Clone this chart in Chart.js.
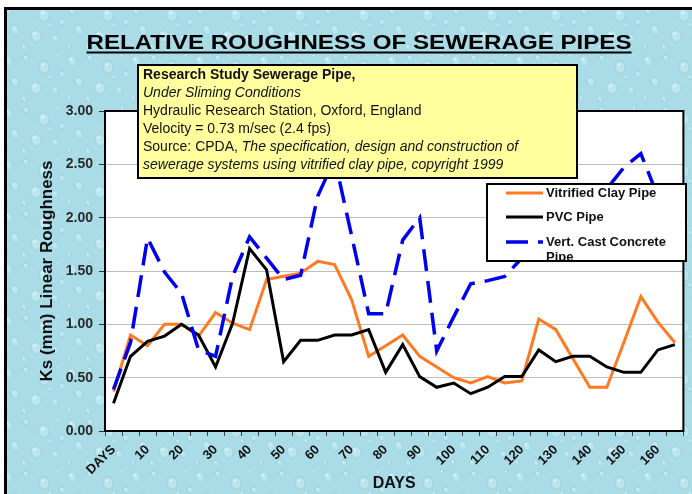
<!DOCTYPE html>
<html>
<head>
<meta charset="utf-8">
<script src="https://cdn.jsdelivr.net/npm/chart.js@4.4.0/dist/chart.umd.min.js"></script>
<style>
  html, body { margin: 0; padding: 0; background: #fff; }
  #wrap { width: 692px; height: 494px; }
</style>
</head>
<body>
<div id="wrap"><canvas id="chart" width="692" height="494"></canvas></div>
<script>
// ====== DATA (one point every 5 days) ======
const dayLabels = ["DAYS", "", "10", "", "20", "", "30", "", "40", "", "50", "", "60", "", "70", "", "80", "",
  "90", "", "100", "", "110", "", "120", "", "130", "", "140", "", "150", "", "160", ""];

const clayPipe = [0.37, 0.90, 0.80, 1.00, 1.00, 0.89, 1.11, 1.01, 0.95, 1.42, 1.45, 1.48, 1.59, 1.56, 1.23, 0.70, 0.80,
  0.90, 0.70, 0.60, 0.50, 0.45, 0.51, 0.45, 0.47, 1.05, 0.95, 0.68, 0.41, 0.41, 0.83, 1.26, 1.02, 0.83];

const pvcPipe = [0.26, 0.70, 0.84, 0.89, 1.00, 0.90, 0.60, 1.01, 1.71, 1.51, 0.65, 0.85, 0.85, 0.90, 0.90, 0.95, 0.55,
  0.81, 0.51, 0.41, 0.45, 0.35, 0.41, 0.51, 0.51, 0.76, 0.65, 0.70, 0.70, 0.60, 0.55, 0.55, 0.76, 0.81];

const concretePipe = [0.39, 0.83, 1.81, 1.49, 1.29, 0.76, 0.70, 1.45, 1.82, 1.62, 1.42, 1.46, 2.20, 2.55, 1.83, 1.10, 1.10,
  1.79, 2.00, 0.75, 1.07, 1.38, 1.41, 1.45, 1.62, 1.75, 1.85, 1.95, 2.10, 2.27, 2.47, 2.60, 2.20, 1.80];

const seriesNames = ["Vitrified Clay Pipe", "PVC Pipe", "Vert. Cast Concrete Pipe"];
const seriesColors = ["#FF7A22", "#000000", "#0000F0"];

const noteLines = [
  [{ t: "Research Study Sewerage Pipe,", s: "bold" }],
  [{ t: "Under Sliming Conditions", s: "italic" }],
  [{ t: "Hydraulic Research Station, Oxford, England", s: "" }],
  [{ t: "Velocity = 0.73 m/sec (2.4 fps)", s: "" }],
  [{ t: "Source: CPDA, ", s: "" }, { t: "The specification, design and construction of", s: "italic" }],
  [{ t: "sewerage systems using vitrified clay pipe, copyright 1999", s: "italic" }]
];

const FONT = '"Liberation Sans", Arial, sans-serif';

// ====== FUNDO COM GOTAS ======
function makeDropPattern(ctx) {
  const c = document.createElement("canvas");
  c.width = 64; c.height = 52;
  const p = c.getContext("2d");
  p.fillStyle = "#A9DCE7";
  p.fillRect(0, 0, 64, 52);
  const drops = [[8, 9, 4, 5], [26, 6, 2.5, 3], [44, 15, 5, 6], [58, 4, 2, 2.5], [15, 30, 3.5, 4.5], [36, 36, 5, 6],
    [55, 38, 3, 3.5], [5, 46, 2, 2.5], [24, 47, 2.5, 3], [50, 25, 2, 2.5], [62, 22, 2.5, 3]];
  drops.forEach(([x, y, rx, ry]) => {
    p.beginPath();
    p.ellipse(x, y, rx, ry, -0.3, 0, Math.PI * 2);
    p.fillStyle = "rgba(200,236,244,0.6)";
    p.fill();
    p.lineWidth = 0.8;
    p.strokeStyle = "rgba(120,185,202,0.45)";
    p.stroke();
    p.beginPath();
    p.ellipse(x - rx * 0.3, y - ry * 0.35, rx * 0.3, ry * 0.22, -0.3, 0, Math.PI * 2);
    p.fillStyle = "rgba(240,252,255,0.6)";
    p.fill();
  });
  return ctx.createPattern(c, "repeat");
}

const backgroundPlugin = {
  id: "background",
  beforeDraw(chart) {
    const { ctx, chartArea: a, width, height } = chart;
    ctx.save();
    ctx.fillStyle = "#fff";
    ctx.fillRect(0, 0, width, height);
    ctx.fillStyle = makeDropPattern(ctx);
    ctx.fillRect(5, 8, width - 5, height - 8);
    ctx.strokeStyle = "#000";
    ctx.lineWidth = 3;
    ctx.beginPath();
    ctx.moveTo(width, 8.5);
    ctx.lineTo(5.5, 8.5);
    ctx.lineTo(5.5, height);
    ctx.stroke();
    ctx.fillStyle = "#fff";
    ctx.fillRect(a.left, a.top, a.right - a.left, a.bottom - a.top);

    // titulo sublinhado
    ctx.font = "bold 21px " + FONT;
    const title = "RELATIVE ROUGHNESS OF SEWERAGE PIPES";
    const w = ctx.measureText(title).width;
    const sx = 545 / w;
    ctx.translate(359, 0);
    ctx.scale(sx, 1);
    ctx.fillStyle = "#000";
    ctx.textAlign = "center";
    ctx.textBaseline = "alphabetic";
    ctx.fillText(title, 0, 49);
    ctx.fillRect(-w / 2, 51.5, w, 2);
    ctx.restore();
  },
  beforeDatasetsDraw(chart) {
    const { ctx, chartArea: a } = chart;
    ctx.save();
    ctx.strokeStyle = "#000";
    ctx.lineWidth = 2;
    ctx.strokeRect(a.left, a.top, a.right - a.left, a.bottom - a.top);
    ctx.restore();
  }
};

// ====== CAIXA DE NOTA + LEGENDA ======
const overlayPlugin = {
  id: "overlay",
  afterDraw(chart) {
    const { ctx } = chart;
    ctx.save();

    // nota amarela
    ctx.fillStyle = "#FFFF9E";
    ctx.fillRect(138, 65, 439, 113);
    ctx.strokeStyle = "#000";
    ctx.lineWidth = 2;
    ctx.strokeRect(138, 65, 439, 113);
    ctx.textBaseline = "middle";
    ctx.textAlign = "left";
    ctx.fillStyle = "#111";
    noteLines.forEach((parts, i) => {
      let x = 143;
      const y = 75 + i * 18;
      parts.forEach(part => {
        ctx.font = (part.s ? part.s + " " : "") + "14px " + FONT;
        ctx.fillText(part.t, x, y);
        x += ctx.measureText(part.t).width;
      });
    });

    // legenda
    const lx = 487, ly = 184, lw = 199, lh = 77;
    ctx.fillStyle = "#fff";
    ctx.fillRect(lx, ly, lw, lh);
    ctx.save();
    ctx.beginPath();
    ctx.rect(lx, ly, lw, lh);
    ctx.clip();
    const rows = [193, 217, 242];
    chart.data.datasets.forEach((ds, i) => {
      ctx.strokeStyle = ds.borderColor;
      ctx.lineWidth = ds.borderWidth;
      ctx.setLineDash(ds.borderDash || []);
      ctx.beginPath();
      ctx.moveTo(506, rows[i]);
      ctx.lineTo(543, rows[i]);
      ctx.stroke();
    });
    ctx.setLineDash([]);
    ctx.fillStyle = "#111";
    ctx.font = "bold 13px " + FONT;
    ctx.fillText("Vitrified Clay Pipe", 546, rows[0]);
    ctx.fillText("PVC Pipe", 546, rows[1]);
    ctx.fillText("Vert. Cast Concrete", 546, rows[2]);
    ctx.fillText("Pipe", 546, rows[2] + 15);
    ctx.restore();
    ctx.strokeStyle = "#000";
    ctx.lineWidth = 2;
    ctx.strokeRect(lx, ly, lw, lh);

    ctx.restore();
  }
};

// ====== GRAFICO ======
const ctx = document.getElementById("chart").getContext("2d");
new Chart(ctx, {
  type: "line",
  data: {
    labels: dayLabels,
    datasets: [
      { label: seriesNames[0], data: clayPipe, borderColor: seriesColors[0], borderWidth: 3, order: 3 },
      { label: seriesNames[1], data: pvcPipe, borderColor: seriesColors[1], borderWidth: 3, order: 2 },
      { label: seriesNames[2], data: concretePipe, borderColor: seriesColors[2], borderWidth: 3.5, borderDash: [22, 10], order: 1 }
    ]
  },
  options: {
    responsive: false,
    animation: false,
    elements: { point: { radius: 0 }, line: { tension: 0, fill: false } },
    layout: { padding: { left: 0, right: 7, top: 111, bottom: 0 } },
    plugins: { legend: { display: false }, tooltip: { enabled: false } },
    scales: {
      x: {
        offset: true,
        afterFit: s => { s.height = 63; },
        grid: { display: true, offset: true, drawOnChartArea: false, tickLength: 5, color: "#444" },
        border: { display: false },
        ticks: { autoSkip: false, maxRotation: 45, minRotation: 45, padding: 6, color: "#111", font: { family: FONT, size: 13, weight: "bold" } },
        title: { display: true, text: "DAYS", color: "#111", padding: { top: 0, bottom: 1 }, font: { family: FONT, size: 16, weight: "bold" } }
      },
      y: {
        min: 0,
        max: 3,
        afterFit: s => { s.width = 105; },
        ticks: { stepSize: 0.5, padding: 6, color: "#2a2a2a", callback: v => v.toFixed(2), font: { family: FONT, size: 14, weight: "bold" } },
        grid: { color: "#BDBDBD", lineWidth: 1, tickColor: "#333", tickLength: 6 },
        border: { display: false },
        title: { display: true, text: "Ks (mm) Linear Roughness", color: "#111", padding: { top: 37, bottom: 0 }, font: { family: FONT, size: 17, weight: "bold" } }
      }
    }
  },
  plugins: [backgroundPlugin, overlayPlugin]
});
</script>
</body>
</html>
